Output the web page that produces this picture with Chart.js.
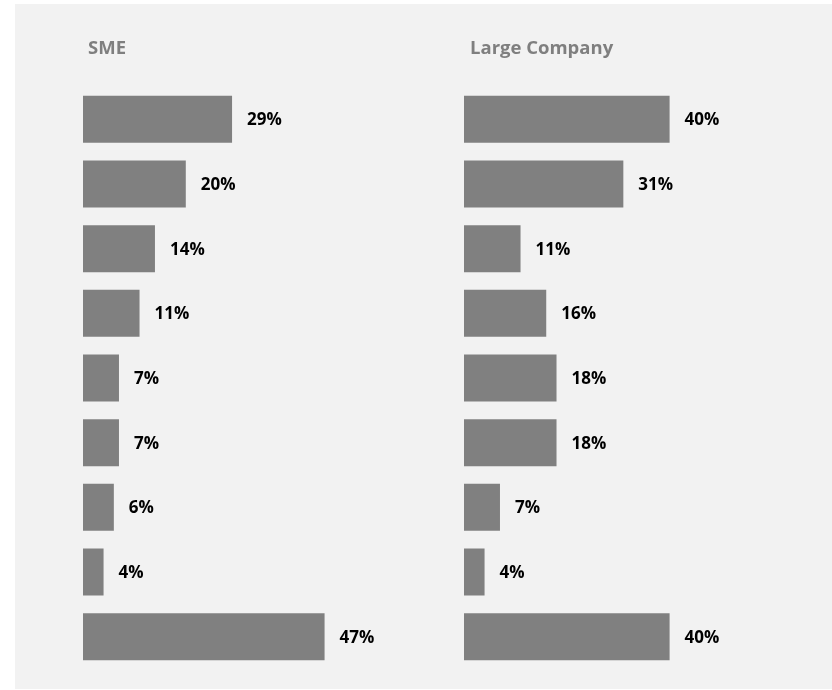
<!DOCTYPE html>
<html>
<head>
<meta charset="utf-8">
<script src="https://cdn.jsdelivr.net/npm/chart.js@4.4.1/dist/chart.umd.min.js"></script>
<style>
  html, body { margin: 0; padding: 0; background: #ffffff; }
  #panel { position: absolute; left: 15px; top: 4px; width: 817px; height: 685px; background: #f2f2f2; }
  canvas { position: absolute; top: 0; }
  #c1 { left: 0; }
  #c2 { left: 416px; }
</style>
</head>
<body>
<div id="panel"></div>
<canvas id="c1" width="416" height="690"></canvas>
<canvas id="c2" width="416" height="690"></canvas>
<script>
const categories = ["1", "2", "3", "4", "5", "6", "7", "8", "9"];
const smeValues = [29, 20, 14, 11, 7, 7, 6, 4, 47];
const largeValues = [40, 31, 11, 16, 18, 18, 7, 4, 40];
const panelTitles = ["SME", "Large Company"];

const BAR_COLOR = "#808080";
const LABEL_FONT = "bold 17px 'Open Sans'";
const TITLE_FONT = "bold 18.5px 'Open Sans'";

function labelPlugin(title, titleX) {
  return {
    id: "labels",
    afterDatasetsDraw(chart) {
      const ctx = chart.ctx;
      ctx.save();
      ctx.font = TITLE_FONT;
      ctx.fillStyle = "#7f7f7f";
      ctx.textBaseline = "middle";
      ctx.textAlign = "left";
      ctx.fillText(title, titleX, 49);
      ctx.font = LABEL_FONT;
      ctx.fillStyle = "#000000";
      const meta = chart.getDatasetMeta(0);
      const data = chart.data.datasets[0].data;
      meta.data.forEach((bar, i) => {
        ctx.fillText(data[i] + "%", bar.x + 15, bar.y + 1);
      });
      ctx.restore();
    }
  };
}

function makeChart(id, values, title, pad, titleX) {
  return new Chart(document.getElementById(id), {
    type: "bar",
    data: {
      labels: categories,
      datasets: [{
        data: values,
        backgroundColor: BAR_COLOR,
        borderWidth: 0,
        barPercentage: 0.727,
        categoryPercentage: 1.0
      }]
    },
    options: {
      indexAxis: "y",
      responsive: false,
      animation: false,
      layout: { padding: pad },
      plugins: { legend: { display: false }, tooltip: { enabled: false }, title: { display: false } },
      scales: {
        x: { display: false, min: 0, max: 60 },
        y: { display: false }
      }
    },
    plugins: [labelPlugin(title, titleX)]
  });
}

makeChart("c1", smeValues, panelTitles[0], { left: 83, right: 24.6, top: 87, bottom: 21 }, 88);
makeChart("c2", largeValues, panelTitles[1], { left: 48, right: 59.6, top: 87, bottom: 21 }, 54);
</script>
</body>
</html>
